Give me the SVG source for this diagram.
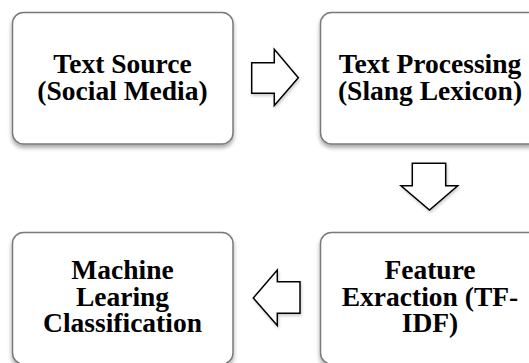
<svg xmlns="http://www.w3.org/2000/svg" width="529" height="363" viewBox="0 0 529 363">
  <defs>
    <filter id="soft-shadow" x="-10%" y="-10%" width="125%" height="130%">
      <feGaussianBlur in="SourceAlpha" stdDeviation="2"/>
      <feOffset dx="0" dy="3" result="blur"/>
      <feComponentTransfer><feFuncA type="linear" slope="0.35"/></feComponentTransfer>
      <feMerge><feMergeNode/><feMergeNode in="SourceGraphic"/></feMerge>
    </filter>
    <filter id="arrow-shadow" x="-20%" y="-20%" width="150%" height="150%">
      <feGaussianBlur in="SourceAlpha" stdDeviation="1.5"/>
      <feOffset dx="1" dy="2" result="blur"/>
      <feComponentTransfer><feFuncA type="linear" slope="0.2"/></feComponentTransfer>
      <feMerge><feMergeNode/><feMergeNode in="SourceGraphic"/></feMerge>
    </filter>
  </defs>
  <style>
    .box { fill: #ffffff; stroke: #7a7a7a; stroke-width: 1.5; filter: url(#soft-shadow); }
    .label { font-family: "Liberation Serif", "Times New Roman", serif; font-weight: bold; font-size: 27.5px; fill: #000000; text-anchor: middle; }
    .block-arrow { fill: #ffffff; stroke: #000000; stroke-width: 1.5; stroke-linejoin: miter; filter: url(#arrow-shadow); }
  </style>
  <rect width="529" height="363" fill="#ffffff"/>

  <g id="text-source">
    <rect class="box" x="12.5" y="12.5" width="220.5" height="131.5" rx="11"/>
    <text class="label" x="122.5" y="72.5">Text Source</text>
    <text class="label" x="122.5" y="99.5">(Social Media)</text>
  </g>

  <g id="text-processing">
    <rect class="box" x="320.5" y="12.5" width="220.5" height="131.5" rx="11"/>
    <text class="label" x="430" y="72.5">Text Processing</text>
    <text class="label" x="430" y="99.5">(Slang Lexicon)</text>
  </g>

  <g id="feature-extraction">
    <rect class="box" x="320.5" y="232.5" width="220.5" height="131.5" rx="11"/>
    <text class="label" x="430" y="279">Feature</text>
    <text class="label" x="430" y="305.5">Exraction (TF-</text>
    <text class="label" x="430" y="332">IDF)</text>
  </g>

  <g id="ml-classification">
    <rect class="box" x="12.5" y="232.5" width="220.5" height="131.5" rx="11"/>
    <text class="label" x="122.5" y="278.5">Machine</text>
    <text class="label" x="122.5" y="305.5">Learing</text>
    <text class="label" x="122.5" y="332">Classification</text>
  </g>

  <g id="connectors">
    <path class="block-arrow" d="M251.7,62.7 L274.3,62.7 L274.3,49.3 L298.3,77.7 L274.3,105.5 L274.3,93.3 L251.7,93.3 Z"/>
    <path class="block-arrow" d="M412.3,163.3 L445.7,163.3 L445.7,185.7 L457.7,185.7 L429.5,210 L401,185.7 L412.3,185.7 Z"/>
    <path class="block-arrow" d="M300,281.7 L300,313.3 L277.3,313.3 L277.3,325.5 L253.3,298 L277.3,270 L277.3,281.7 Z"/>
  </g>
</svg>
